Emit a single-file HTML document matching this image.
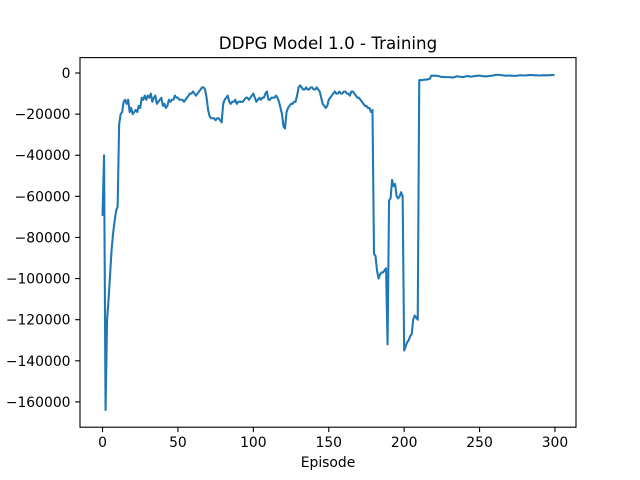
<!DOCTYPE html>
<html><head><meta charset="utf-8"><style>
body{margin:0;background:#fff;}
svg{display:block;font-family:"DejaVu Sans","Liberation Sans",sans-serif;}
</style></head><body>
<svg id="chart" width="640" height="480"></svg>
<script>
const episodesCount = 300;
const xTicks = [0,50,100,150,200,250,300];
const yTicks = [0,-20000,-40000,-60000,-80000,-100000,-120000,-140000,-160000];
const rewardsK = [
-69,-40,-164,-120,-110,-98,-86,-78,-72,-67,-65,-25,-20,-19,-14,-13,-15,-13,-19,-17,
-20,-19,-18,-19,-16,-17,-12,-13,-11,-13,-11,-12,-10,-14,-12,-11,-15,-14,-13,-12,
-16,-15,-17,-16,-13,-14,-13,-13,-11,-12,-12,-13,-13,-13,-14,-13,-12,-11,-10,-10,
-9,-10,-11,-10,-9,-8,-7,-7,-8,-12,-18,-21,-22,-22,-22,-23,-22,-22,-23,-24,
-15,-13,-12,-11,-14,-15,-14,-14,-13,-15,-14,-14,-14,-14,-13,-12,-12,-13,-12,-11,
-10,-12,-14,-13,-12,-13,-12,-12,-10,-9,-13,-13,-12,-12,-12,-11,-12,-14,-17,-20,
-26,-27,-19,-17,-16,-15,-15,-14,-14,-11,-7,-6,-7,-8,-8,-7,-8,-8,-7,-7,
-8,-8,-7,-8,-9,-12,-15,-16,-17,-16,-13,-12,-11,-10,-9,-10,-10,-9,-10,-10,
-9,-9,-10,-10,-11,-9,-9,-10,-11,-12,-12,-13,-14,-15,-16,-16,-17,-17,-19,-18,
-88,-89,-96,-100,-98,-97,-97,-96,-95,-132,-62,-61,-52,-55,-54,-60,-61,-60,-58,-60,
-135,-133,-131,-130,-128,-127,-120,-118,-119,-120,-3.5,-3.4,-3.5,-3.3,-3.2,-3.2,-3,-2.8,-1.3,-1.3,
-1.3,-1.3,-1.4,-1.5,-1.8,-1.9,-1.9,-2,-2,-2,-2,-2.1,-2.2,-2.1,-1.8,-1.6,-1.7,-1.8,-1.9,-2,
-1.8,-1.6,-1.5,-1.6,-1.8,-1.7,-1.6,-1.4,-1.4,-1.3,-1.3,-1.4,-1.5,-1.6,-1.6,-1.6,-1.5,-1.4,-1.3,-1.2,
-1,-0.9,-0.9,-0.9,-1,-1.1,-1.2,-1.3,-1.3,-1.2,-1.2,-1.3,-1.3,-1.4,-1.4,-1.3,-1.2,-1.1,-1.1,-1.2,
-1.2,-1.1,-1.1,-1,-1,-1,-1.1,-1.1,-1.1,-1.2,-1.2,-1.1,-1.1,-1.1,-1.1,-1.1,-1.1,-1,-1,-1
];
const NS="http://www.w3.org/2000/svg";
const svg=document.getElementById('chart');
const L=80,R=576,T=57.6,B=427.2;
const xMin=-14.95,xMax=313.95,yMin=-172300,yMax=7500;
const xs=v=>L+(v-xMin)/(xMax-xMin)*(R-L);
const ys=v=>B-(v-yMin)/(yMax-yMin)*(B-T);
function mk(tag,attrs,parent){const e=document.createElementNS(NS,tag);for(const k in attrs)e.setAttribute(k,attrs[k]);(parent||svg).appendChild(e);return e;}
let d='';
rewardsK.forEach((v,i)=>{d+=(i?'L':'M')+xs(i).toFixed(2)+','+ys(v*1000).toFixed(2);});
const line=mk('path',{d:d,fill:'none',stroke:'#1f77b4','stroke-width':2.08,'stroke-linejoin':'round','stroke-linecap':'square'});


const frame=mk('rect',{x:L,y:T,width:R-L,height:B-T,fill:'none',stroke:'#000','stroke-width':1.1});


xTicks.forEach(t=>{const x=xs(t);
mk('line',{x1:x,x2:x,y1:B,y2:B+4.9,stroke:'#000','stroke-width':1.1});
const tx=mk('text',{x:x,y:B+20,'text-anchor':'middle','font-size':13.9});tx.textContent=t;

});
yTicks.forEach(t=>{const y=ys(t);
mk('line',{x1:L-4.9,x2:L,y1:y,y2:y,stroke:'#000','stroke-width':1.1});
const tx=mk('text',{x:L-9.5,y:y+5,'text-anchor':'end','font-size':13.9});tx.textContent=t===0?'0':'\u2212'+Math.abs(t);

});
const xl=mk('text',{x:(L+R)/2,y:467,'text-anchor':'middle','font-size':13.9});xl.textContent='Episode';


const ti=mk('text',{x:(L+R)/2,y:49,'text-anchor':'middle','font-size':16.7});ti.textContent='DDPG Model 1.0 - Training';


</script>
</body></html>
